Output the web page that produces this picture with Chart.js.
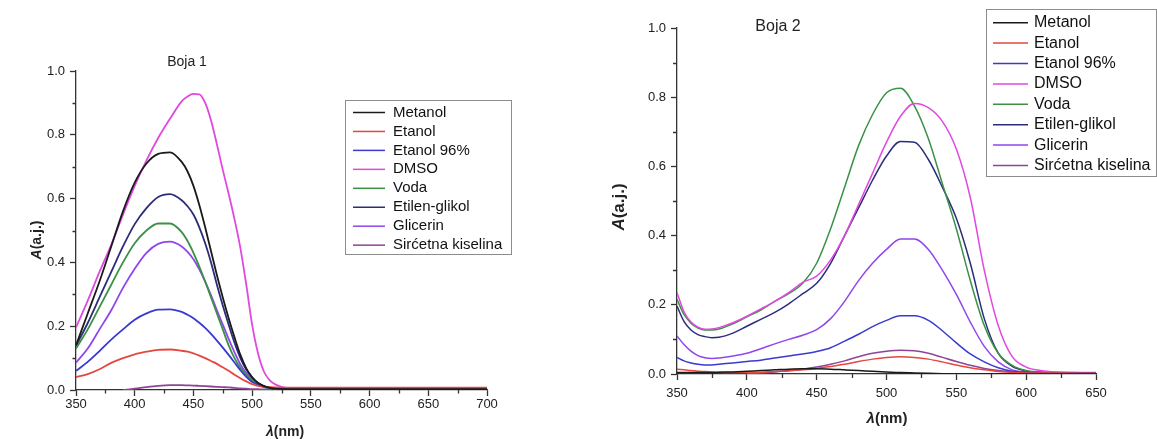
<!DOCTYPE html>
<html>
<head>
<meta charset="utf-8">
<title>Boja 1 / Boja 2</title>
<script src="https://cdn.jsdelivr.net/npm/chart.js@4.4.0/dist/chart.umd.min.js"></script>
<style>
    body { margin: 0; background: #fff; }
    .box { position: absolute; top: 0; height: 439px; }
    #box1 { left: 0; width: 560px; }
    #box2 { left: 560px; width: 597px; }
</style>
</head>
<body>
<div class="box" id="box1"><canvas id="chartBoja1"></canvas></div>
<div class="box" id="box2"><canvas id="chartBoja2"></canvas></div>
<script>
// data
var solvents = ['Metanol', 'Etanol', 'Etanol 96%', 'DMSO', 'Voda', 'Etilen-glikol', 'Glicerin', 'Sirćetna kiselina'];

// Boja 1
var wavelengths1 = [350, 360, 370, 380, 390, 400, 410, 420, 430,
    440, 445, 450, 455, 460, 465, 470, 475, 480, 485, 490, 495, 500, 505, 510, 515, 520,
    530, 540, 550, 600, 650, 700];
var metanol1 = [0.14, 0.24, 0.34, 0.45, 0.56, 0.65, 0.71, 0.74, 0.745,
    0.715, 0.685, 0.64, 0.58, 0.51, 0.435, 0.36, 0.29, 0.225, 0.165, 0.11, 0.068, 0.04, 0.022, 0.012, 0.007, 0.004,
    0.003, 0.003, 0.003, 0.003, 0.003, 0.003];
var etanol1 = [0.04, 0.05, 0.065, 0.085, 0.1, 0.112, 0.12, 0.126, 0.127,
    0.123, 0.12, 0.115, 0.108, 0.1, 0.091, 0.082, 0.071, 0.06, 0.048, 0.037, 0.027, 0.018, 0.013, 0.01, 0.009, 0.008,
    0.007, 0.007, 0.007, 0.007, 0.007, 0.007];
var etanol96_1 = [0.06, 0.088, 0.122, 0.158, 0.19, 0.22, 0.24, 0.252, 0.253,
    0.245, 0.236, 0.225, 0.211, 0.195, 0.176, 0.155, 0.133, 0.11, 0.086, 0.062, 0.041, 0.025, 0.016, 0.01, 0.007, 0.005,
    0.004, 0.004, 0.004, 0.004, 0.004, 0.004];
var dmso1 = [0.196, 0.28, 0.37, 0.455, 0.55, 0.64, 0.72, 0.79, 0.85,
    0.905, 0.92, 0.928, 0.927, 0.9, 0.845, 0.77, 0.69, 0.615, 0.535, 0.445, 0.33, 0.205, 0.115, 0.058, 0.03, 0.017,
    0.006, 0.005, 0.005, 0.005, 0.005, 0.005];
var voda1 = [0.13, 0.19, 0.26, 0.33, 0.4, 0.46, 0.5, 0.522, 0.522,
    0.495, 0.467, 0.43, 0.387, 0.34, 0.29, 0.24, 0.19, 0.14, 0.1, 0.07, 0.047, 0.03, 0.018, 0.01, 0.006, 0.004,
    0.003, 0.003, 0.003, 0.003, 0.003, 0.003];
var etilenGlikol1 = [0.138, 0.21, 0.29, 0.37, 0.45, 0.52, 0.57, 0.605, 0.614,
    0.595, 0.576, 0.55, 0.51, 0.46, 0.4, 0.33, 0.265, 0.205, 0.148, 0.1, 0.064, 0.04, 0.022, 0.012, 0.007, 0.004,
    0.003, 0.003, 0.003, 0.003, 0.003, 0.003];
var glicerin1 = [0.086, 0.13, 0.19, 0.25, 0.32, 0.38, 0.43, 0.458, 0.465,
    0.45, 0.433, 0.41, 0.378, 0.34, 0.297, 0.25, 0.205, 0.16, 0.118, 0.08, 0.053, 0.035, 0.021, 0.012, 0.007, 0.004,
    0.003, 0.003, 0.003, 0.003, 0.003, 0.003];
var sircetna1 = [null, null, null, null, 0, 0.004, 0.009, 0.013, 0.015,
    0.015, 0.0145, 0.014, 0.013, 0.012, 0.011, 0.01, 0.009, 0.008, 0.0065, 0.005, 0.004, 0.003, 0.0025, 0.002, 0.0015, 0.001,
    0.001, 0.001, 0.001, 0.001, 0.001, 0.001];

// Boja 2
var wavelengths2 = [350, 355, 360, 365, 370, 375, 380, 390, 400, 410, 420, 430, 440, 450, 460, 470, 480, 490, 500, 510, 520, 530, 540, 550, 560, 570, 580, 590, 600, 610, 620, 650];
var metanol2 = [0.004, 0.004, 0.004, 0.004, 0.004, 0.004, 0.005, 0.006, 0.008, 0.01, 0.012, 0.014, 0.015, 0.015, 0.014, 0.012, 0.01, 0.008, 0.006, 0.004, 0.003, 0.002, 0.001, 0, 0, 0, 0, 0, 0, 0, 0, 0];
var etanol2 = [0.014, 0.012, 0.01, 0.008, 0.007, 0.006, 0.005, 0.004, 0.004, 0.005, 0.007, 0.009, 0.012, 0.016, 0.022, 0.028, 0.036, 0.043, 0.048, 0.05, 0.048, 0.043, 0.035, 0.026, 0.018, 0.012, 0.007, 0.004, 0.003, 0.003, 0.003, 0.002];
var etanol96_2 = [0.048, 0.038, 0.032, 0.028, 0.026, 0.026, 0.028, 0.032, 0.036, 0.04, 0.046, 0.052, 0.058, 0.065, 0.076, 0.095, 0.115, 0.137, 0.155, 0.168, 0.168, 0.155, 0.125, 0.09, 0.058, 0.035, 0.018, 0.008, 0.005, 0.004, 0.003, 0.003];
var dmso2 = [0.235, 0.18, 0.15, 0.135, 0.129, 0.13, 0.134, 0.148, 0.167, 0.188, 0.21, 0.235, 0.265, 0.283, 0.33, 0.4, 0.49, 0.58, 0.67, 0.745, 0.782, 0.77, 0.73, 0.65, 0.51, 0.3, 0.14, 0.05, 0.02, 0.01, 0.006, 0.004];
var voda2 = [0.216, 0.172, 0.147, 0.133, 0.127, 0.127, 0.13, 0.145, 0.165, 0.185, 0.21, 0.232, 0.262, 0.32, 0.42, 0.54, 0.66, 0.75, 0.813, 0.826, 0.775, 0.68, 0.55, 0.42, 0.27, 0.14, 0.06, 0.025, 0.01, 0.005, 0.004, 0.003];
var etilenGlikol2 = [0.196, 0.152, 0.127, 0.114, 0.108, 0.105, 0.106, 0.118, 0.138, 0.158, 0.178, 0.203, 0.232, 0.262, 0.32, 0.4, 0.48, 0.56, 0.63, 0.672, 0.67, 0.62, 0.54, 0.45, 0.32, 0.16, 0.06, 0.022, 0.009, 0.005, 0.004, 0.003];
var glicerin2 = [0.11, 0.085, 0.066, 0.053, 0.047, 0.045, 0.046, 0.052, 0.06, 0.073, 0.087, 0.1, 0.112, 0.128, 0.16, 0.21, 0.27, 0.32, 0.36, 0.39, 0.39, 0.36, 0.3, 0.23, 0.15, 0.08, 0.035, 0.012, 0.006, 0.004, 0.003, 0.003];
var sircetna2 = [null, null, null, null, null, null, null, null, 0, 0.003, 0.006, 0.01, 0.014, 0.02, 0.028, 0.038, 0.05, 0.06, 0.066, 0.069, 0.067, 0.06, 0.048, 0.036, 0.025, 0.016, 0.01, 0.006, 0.004, 0.003, 0.003, 0.003];

var solventColors = ['#1a1a1a', '#e5473f', '#3a3ad0', '#e048e0', '#3a9146', '#2b2d7a', '#9146ec', '#8f4596'];

var FONT = '"Liberation Sans", Arial, sans-serif';
Chart.defaults.font.family = FONT;
Chart.defaults.color = '#222';

function makeDatasets(wl, seriesList, width) {
    return seriesList.map(function (values, i) {
        return {
            label: solvents[i],
            data: wl.map(function (x, j) { return { x: x, y: values[j] }; }),
            borderColor: solventColors[i],
            backgroundColor: solventColors[i],
            borderWidth: width,
            pointRadius: 0,
            fill: false,
            spanGaps: false,
            cubicInterpolationMode: 'monotone'
        };
    });
}

// draws text with a few font styles on one line, centred on cx
function drawParts(ctx, parts, cx, cy, size) {
    var total = 0;
    parts.forEach(function (p) {
        ctx.font = p[0] + ' ' + size + 'px ' + FONT;
        total += ctx.measureText(p[1]).width;
    });
    var x = cx - total / 2;
    ctx.textAlign = 'left';
    ctx.textBaseline = 'middle';
    parts.forEach(function (p) {
        ctx.font = p[0] + ' ' + size + 'px ' + FONT;
        ctx.fillText(p[1], x, cy);
        x += ctx.measureText(p[1]).width;
    });
}

// minor ticks, titles and the boxed legend
var decor = {
    id: 'decor',
    afterDraw: function (chart, args, o) {
        var ctx = chart.ctx;
        var xs = chart.scales.x, ys = chart.scales.y;
        ctx.save();

        ctx.strokeStyle = '#333';
        ctx.lineWidth = 1.3;
        ctx.beginPath();
        for (var i = 0; i < xs.ticks.length - 1; i++) {
            var px = Math.round(xs.getPixelForValue((xs.ticks[i].value + xs.ticks[i + 1].value) / 2)) + 0.5;
            ctx.moveTo(px, xs.top);
            ctx.lineTo(px, xs.top + o.minorLen);
        }
        for (var k = 0; k < ys.ticks.length - 1; k++) {
            var py = Math.round(ys.getPixelForValue((ys.ticks[k].value + ys.ticks[k + 1].value) / 2)) + 0.5;
            ctx.moveTo(ys.right, py);
            ctx.lineTo(ys.right - o.minorLen, py);
        }
        ctx.stroke();

        ctx.fillStyle = '#222';
        ctx.font = o.titleSize + 'px ' + FONT;
        ctx.textAlign = 'center';
        ctx.textBaseline = 'middle';
        ctx.fillText(o.title, o.titleX, o.titleY);

        drawParts(ctx, [['italic bold', 'λ'], ['bold', '(nm)']], o.xTitleX, o.xTitleY, o.xTitleSize);

        ctx.save();
        ctx.translate(o.yTitleX, o.yTitleY);
        ctx.rotate(-Math.PI / 2);
        drawParts(ctx, [['italic bold', 'A'], ['bold', '(a.j.)']], 0, 0, o.yTitleSize);
        ctx.restore();

        var L = o.legend;
        ctx.strokeStyle = '#8c8c8c';
        ctx.lineWidth = 1;
        ctx.strokeRect(L.x + 0.5, L.y + 0.5, L.w, L.h);
        chart.data.datasets.forEach(function (ds, i) {
            var y = L.y + L.first + i * L.gap;
            ctx.strokeStyle = ds.borderColor;
            ctx.lineWidth = 1.5;
            ctx.beginPath();
            ctx.moveTo(L.x + L.pad, y);
            ctx.lineTo(L.x + L.pad + L.sample, y);
            ctx.stroke();
            ctx.fillStyle = '#111';
            ctx.font = L.size + 'px ' + FONT;
            ctx.textAlign = 'left';
            ctx.textBaseline = 'middle';
            ctx.fillText(ds.label, L.x + L.pad + L.sample + L.textGap, y);
        });
        ctx.restore();
    }
};

function axes(xMin, xMax, yWidth, xHeight, xPad) {
    return {
        x: {
            type: 'linear', min: xMin, max: xMax,
            border: { color: '#333', width: 1.3 },
            grid: { drawOnChartArea: false, tickLength: 6, tickColor: '#333', tickWidth: 1.3 },
            ticks: { stepSize: 50, padding: xPad, font: { size: 13 }, color: '#222', maxRotation: 0 },
            afterFit: function (scale) { scale.height = xHeight; }
        },
        y: {
            min: 0, max: 1,
            border: { color: '#333', width: 1.3 },
            grid: { drawOnChartArea: false, tickLength: 6, tickColor: '#333', tickWidth: 1.3 },
            ticks: { stepSize: 0.2, padding: 5, font: { size: 13 }, color: '#222',
                callback: function (v) { return v.toFixed(1); } },
            afterFit: function (scale) { scale.width = yWidth; }
        }
    };
}

//Boja 1
var ctx = document.getElementById('chartBoja1').getContext('2d');
var chartBoja1 = new Chart(ctx, {
    type: 'line',
    data: {
        datasets: makeDatasets(wavelengths1, [metanol1, etanol1, etanol96_1, dmso1, voda1, etilenGlikol1, glicerin1, sircetna1], 1.8)
    },
    options: {
        responsive: true,
        maintainAspectRatio: false,
        animation: false,
        layout: { padding: { left: 0, top: 71, right: 73, bottom: 0 } },
        plugins: {
            legend: { display: false },
            tooltip: { enabled: false },
            decor: {
                minorLen: 3.5,
                title: 'Boja 1', titleX: 187, titleY: 62, titleSize: 14,
                xTitleX: 285, xTitleY: 432, xTitleSize: 14,
                yTitleX: 37, yTitleY: 240, yTitleSize: 14,
                legend: { x: 345, y: 100, w: 166, h: 154, first: 12.5, gap: 18.95, pad: 8, sample: 32, textGap: 8, size: 15 }
            }
        },
        scales: axes(350, 700, 76, 49, 1)
    },
    plugins: [decor]
});

//Boja 2
var ctx2 = document.getElementById('chartBoja2').getContext('2d');
var chartBoja2 = new Chart(ctx2, {
    type: 'line',
    data: {
        datasets: makeDatasets(wavelengths2, [metanol2, etanol2, etanol96_2, dmso2, voda2, etilenGlikol2, glicerin2, sircetna2], 1.5)
    },
    options: {
        responsive: true,
        maintainAspectRatio: false,
        animation: false,
        layout: { padding: { left: 0, top: 28, right: 61, bottom: 0 } },
        plugins: {
            legend: { display: false },
            tooltip: { enabled: false },
            decor: {
                minorLen: 4,
                title: 'Boja 2', titleX: 218, titleY: 27, titleSize: 16,
                xTitleX: 327, xTitleY: 419, xTitleSize: 15,
                yTitleX: 59, yTitleY: 207, yTitleSize: 17,
                legend: { x: 426, y: 9, w: 170, h: 167, first: 13.7, gap: 20.4, pad: 7, sample: 35, textGap: 6, size: 16 }
            }
        },
        scales: axes(350, 650, 117, 65, 6)
    },
    plugins: [decor]
});
</script>
</body>
</html>
